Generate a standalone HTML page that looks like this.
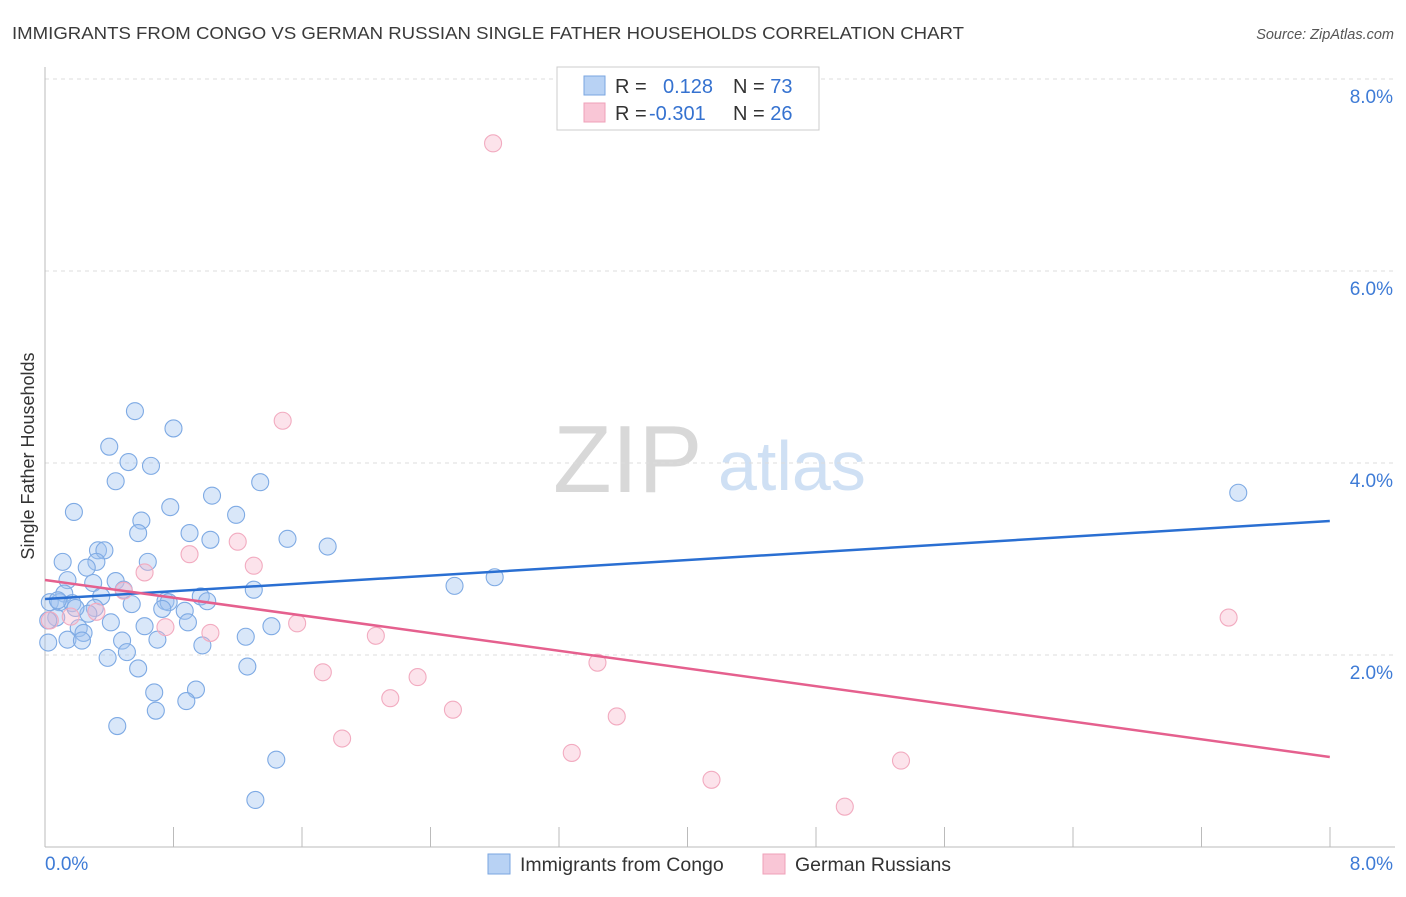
<!DOCTYPE html>
<html><head><meta charset="utf-8"><style>
body{margin:0;background:#fff;font-family:"Liberation Sans",sans-serif;}
svg text{font-family:"Liberation Sans",sans-serif;}
</style></head><body>
<svg id="chart" width="1406" height="892">
<text x="12" y="39" font-size="17.5" fill="#3a3a3a" textLength="952" lengthAdjust="spacingAndGlyphs">IMMIGRANTS FROM CONGO VS GERMAN RUSSIAN SINGLE FATHER HOUSEHOLDS CORRELATION CHART</text>
<text x="1394" y="39" font-size="14.5" fill="#555" font-style="italic" text-anchor="end">Source: ZipAtlas.com</text>
<g>
<text x="553" y="492" font-size="96" fill="#d8d8d8" font-family="Liberation Serif,serif">ZIP</text>
<text x="718" y="490" font-size="70" fill="#cfe0f4">atlas</text>
</g>
<g id="grid"></g>
<g id="axes"></g>
<g id="marks"></g>
<g id="trend"></g>
<text x="34" y="456" font-size="18" fill="#333" text-anchor="middle" transform="rotate(-90 34 456)">Single Father Households</text>
<g>
<rect x="557" y="67" width="262" height="63" fill="#fff" stroke="#ccc"/>
<rect x="584" y="76" width="21" height="19" fill="#b8d2f4" stroke="#7aa6e0"/>
<rect x="584" y="103" width="21" height="19" fill="#f9c6d6" stroke="#efa0b8"/>
<text x="615" y="93" font-size="20" fill="#333">R = <tspan x="663" fill="#3572d0">0.128</tspan><tspan x="733" fill="#333">N = </tspan><tspan fill="#3572d0">73</tspan></text>
<text x="615" y="120" font-size="20" fill="#333">R = <tspan x="649" fill="#3572d0">-0.301</tspan><tspan x="733" fill="#333">N = </tspan><tspan fill="#3572d0">26</tspan></text>
</g>
<g>
<rect x="488" y="854" width="22" height="20" fill="#b8d2f4" stroke="#7aa6e0"/>
<text x="520" y="871" font-size="19.5" fill="#333">Immigrants from Congo</text>
<rect x="763" y="854" width="22" height="20" fill="#f9c6d6" stroke="#efa0b8"/>
<text x="795" y="871" font-size="19.5" fill="#333">German Russians</text>
</g>
</svg>
<script>
const yTicks=[2,4,6,8];
const yTickLabels=["2.0%","4.0%","6.0%","8.0%"];
const xTickLabels=["0.0%","8.0%"];
const congoX=[0.56,0.80,0.40,0.52,0.66,0.44,1.34,1.04,0.18,0.78,1.19,0.60,0.58,0.90,1.03,1.51,1.76,0.33,0.37,0.11,0.32,0.64,0.26,0.14,0.30,0.44,0.49,0.12,0.35,0.03,0.09,0.17,0.54,0.75,0.77,0.97,1.01,1.30,0.73,0.31,0.87,0.27,0.07,0.41,0.89,0.62,1.41,0.21,0.24,1.25,0.14,0.23,0.48,0.70,0.98,0.51,0.39,0.58,1.26,0.68,0.94,0.88,0.69,0.45,1.44,1.31,2.55,2.80,7.43,0.02,0.02,0.08,0.19];
const congoY=[4.54,4.36,4.17,4.01,3.97,3.81,3.80,3.66,3.49,3.54,3.46,3.40,3.27,3.27,3.20,3.21,3.13,3.09,3.09,2.97,2.97,2.97,2.91,2.78,2.75,2.77,2.68,2.64,2.61,2.55,2.55,2.54,2.53,2.56,2.55,2.61,2.56,2.68,2.48,2.49,2.46,2.43,2.39,2.34,2.34,2.30,2.30,2.28,2.23,2.19,2.16,2.15,2.15,2.16,2.10,2.03,1.97,1.86,1.88,1.61,1.64,1.52,1.42,1.26,0.91,0.49,2.72,2.81,3.69,2.36,2.13,2.57,2.49];
const germanX=[2.79,1.48,0.90,1.20,1.30,0.62,0.49,0.32,0.75,1.03,1.57,2.06,1.73,2.32,3.44,2.15,2.54,3.56,1.85,3.28,4.15,5.33,4.98,7.37,0.03,0.16];
const germanY=[7.33,4.44,3.05,3.18,2.93,2.86,2.67,2.45,2.29,2.23,2.33,2.20,1.82,1.77,1.92,1.55,1.43,1.36,1.13,0.98,0.70,0.90,0.42,2.39,2.36,2.40];
const congoTrend=[2.583,3.396];
const germanTrend=[2.781,0.938];
const NS="http://www.w3.org/2000/svg";
const X=v=>45+v*160.6, Y=v=>847-v*96;
function mk(tag,attrs,parent){const e=document.createElementNS(NS,tag);for(const k in attrs)e.setAttribute(k,attrs[k]);document.getElementById(parent).appendChild(e);return e;}
yTicks.forEach((t,i)=>{
 const g=mk('line',{x1:45,x2:1395,y1:Y(t),y2:Y(t),stroke:'#ddd','stroke-dasharray':'4,4'},'grid');
 
 
 const l=mk('text',{x:1393,y:Y(t)+24,'font-size':19,fill:'#3e7bd6','text-anchor':'end'},'axes');
 l.textContent=yTickLabels[i];
 
 
});
const ax=mk('line',{x1:45,x2:45,y1:67,y2:847,stroke:'#bbb'},'axes');


const bx=mk('line',{x1:45,x2:1395,y1:847,y2:847,stroke:'#bbb'},'axes');


for(let k=0;k<=10;k++){
 const t=mk('line',{x1:45+k*128.5,x2:45+k*128.5,y1:827,y2:847,stroke:'#bbb'},'axes');
 
 
}
[[0,'start',45],[8,'end',1393]].forEach((d,i)=>{
 const l=mk('text',{x:d[2],y:870,'font-size':19,fill:'#3e7bd6','text-anchor':d[1]},'axes');
 l.textContent=xTickLabels[i];
 
 
});
congoX.forEach((x,i)=>{
 const c=mk('circle',{cx:X(x),cy:Y(congoY[i]),r:8.5,fill:'rgba(160,196,240,0.4)',stroke:'#7eaae4','stroke-width':1.1},'marks');
 
 
});
germanX.forEach((x,i)=>{
 const c=mk('circle',{cx:X(x),cy:Y(germanY[i]),r:8.5,fill:'rgba(248,186,205,0.4)',stroke:'#f2abc0','stroke-width':1.1},'marks');
 
 
});
const t1=mk('line',{x1:X(0),y1:Y(congoTrend[0]),x2:X(8),y2:Y(congoTrend[1]),stroke:'#2a6fd2','stroke-width':2.5},'trend');


const t2=mk('line',{x1:X(0),y1:Y(germanTrend[0]),x2:X(8),y2:Y(germanTrend[1]),stroke:'#e5608e','stroke-width':2.5},'trend');


</script>
</body></html>
